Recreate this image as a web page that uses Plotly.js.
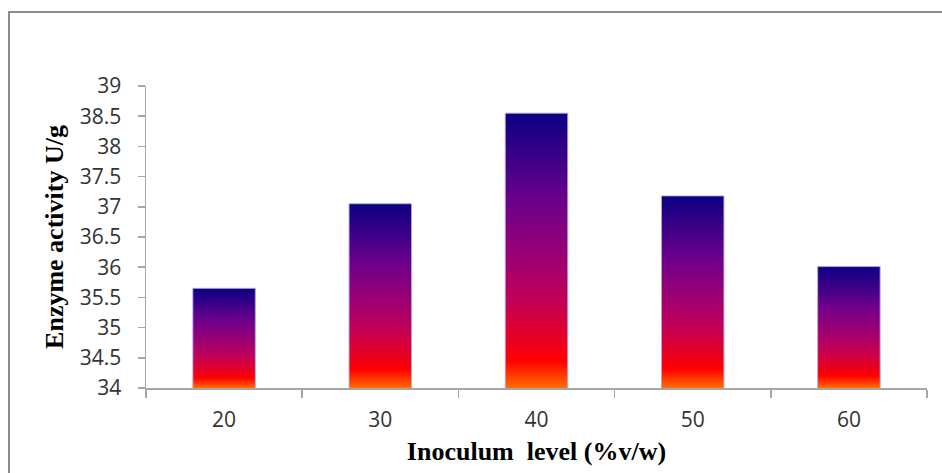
<!DOCTYPE html>
<html>
<head>
<meta charset="utf-8">
<script src="https://cdn.plot.ly/plotly-3.0.1.min.js"></script>
<style>
  html, body { margin: 0; padding: 0; background: #ffffff; }
  #chart { width: 942px; height: 473px; }
</style>
</head>
<body>
<div id="chart"></div>
<script>
// Data
const categories = ["20", "30", "40", "50", "60"];
const enzymeActivity = [35.65, 37.05, 38.55, 37.18, 36.01];
const yTickValues = [34, 34.5, 35, 35.5, 36, 36.5, 37, 37.5, 38, 38.5, 39];
const yTickLabels = ["34", "34.5", "35", "35.5", "36", "36.5", "37", "37.5", "38", "38.5", "39"];

// Gradient (top -> bottom) used to fill every bar
const gradientStops = [
  [0.00, "#0a0082"],
  [0.32, "#6c008c"],
  [0.55, "#a2006f"],
  [0.68, "#c10057"],
  [0.83, "#e8001e"],
  [0.90, "#ff0000"],
  [0.96, "#ff4000"],
  [1.00, "#ff6e00"]
];

const trace = {
  type: "bar",
  x: categories,
  y: enzymeActivity,
  marker: {
    color: "#a0006e",
    line: { color: "rgba(175,170,225,0.9)", width: 1 }
  },
  hoverinfo: "x+y"
};

const axisGray = "#a6a6a6";

const layout = {
  width: 942,
  height: 473,
  paper_bgcolor: "#ffffff",
  plot_bgcolor: "#ffffff",
  margin: { l: 146, r: 15, t: 86, b: 85 },
  bargap: 0.6,
  showlegend: false,
  xaxis: {
    type: "category",
    tickson: "boundaries",
    ticks: "outside",
    ticklen: 8,
    tickwidth: 1.5,
    tickcolor: axisGray,
    showline: true,
    linecolor: axisGray,
    linewidth: 1.5,
    showgrid: false,
    zeroline: false,
    ticklabelstandoff: 12,
    tickfont: { family: "Open Sans, sans-serif", size: 21, color: "#333333" },
    title: {
      text: "Inoculum\u00a0 level (%v/w)",
      font: { family: "Liberation Serif, Times New Roman, serif", size: 26, color: "#000000", weight: "bold" },
      standoff: 10
    }
  },
  yaxis: {
    range: [34, 39],
    tickmode: "array",
    tickvals: yTickValues,
    ticktext: yTickLabels,
    ticks: "outside",
    ticklen: 7,
    tickwidth: 1.5,
    tickcolor: axisGray,
    showline: true,
    linecolor: axisGray,
    linewidth: 1.5,
    showgrid: false,
    zeroline: false,
    ticklabelstandoff: 12,
    tickfont: { family: "Open Sans, sans-serif", size: 21, color: "#333333" },
    title: {
      text: "Enzyme activity U/g",
      font: { family: "Liberation Serif, Times New Roman, serif", size: 26, color: "#000000", weight: "bold" },
      standoff: 8
    }
  },
  shapes: [
    {
      type: "rect",
      xref: "paper", yref: "paper",
      x0: (9 - 146) / 781, x1: 1.2,
      y0: -0.5, y1: (388 - 12) / 302,
      line: { color: "#8c8c8c", width: 2 },
      fillcolor: "rgba(0,0,0,0)",
      layer: "below"
    }
  ]
};

Plotly.newPlot("chart", [trace], layout, { displayModeBar: false, staticPlot: true }).then(function (gd) {
  const NS = "http://www.w3.org/2000/svg";
  const svg = gd.querySelector("svg.main-svg");
  let defs = svg.querySelector("defs");
  if (!defs) { defs = document.createElementNS(NS, "defs"); svg.insertBefore(defs, svg.firstChild); }
  const plotBottom = gd._fullLayout.yaxis._length;
  gd.querySelectorAll(".trace.bars .point path").forEach(function (p, i) {
    const bb = p.getBBox();
    const top = Math.max(0, bb.y);
    const grad = document.createElementNS(NS, "linearGradient");
    const id = "barFireGradient" + i;
    grad.setAttribute("id", id);
    grad.setAttribute("gradientUnits", "userSpaceOnUse");
    grad.setAttribute("x1", "0"); grad.setAttribute("y1", String(top));
    grad.setAttribute("x2", "0"); grad.setAttribute("y2", String(plotBottom));
    gradientStops.forEach(function (s) {
      const st = document.createElementNS(NS, "stop");
      st.setAttribute("offset", s[0]);
      st.setAttribute("stop-color", s[1]);
      grad.appendChild(st);
    });
    defs.appendChild(grad);
    p.style.fill = "url(#" + id + ")";
  });
});
</script>
</body>
</html>
